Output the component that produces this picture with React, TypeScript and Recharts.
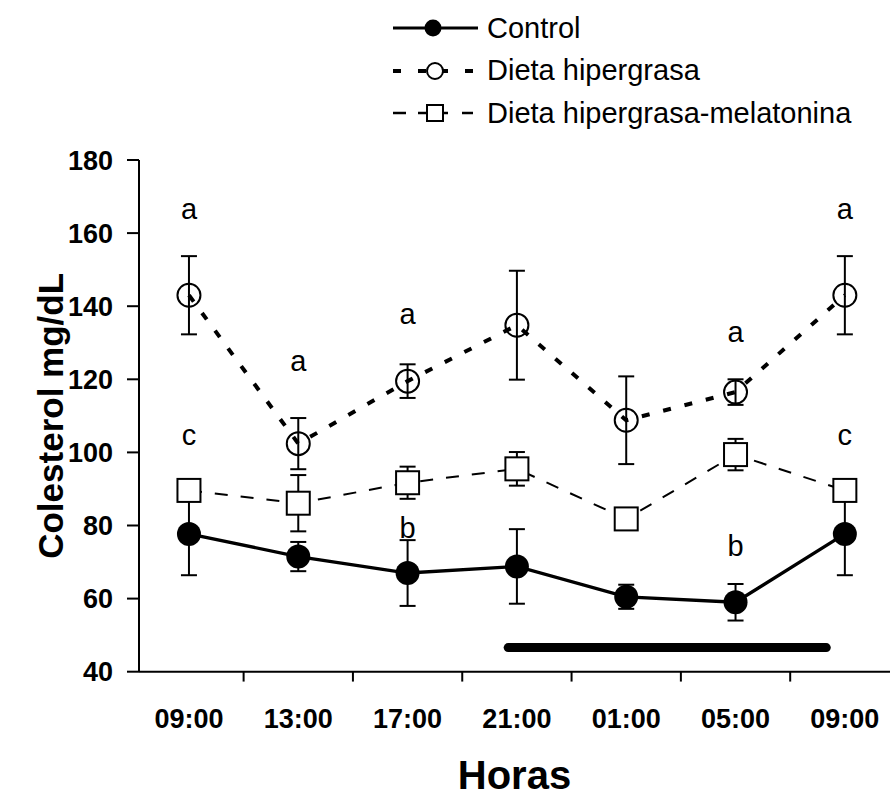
import { LineChart, Line, XAxis, YAxis, ErrorBar, ReferenceLine, Label } from 'recharts'

const FONT = 'Arial, "Liberation Sans", Helvetica, sans-serif'

// sampling times (4 h apart, starting and ending at 09:00)
const hours = ['09:00', '13:00', '17:00', '21:00', '01:00', '05:00', '09:00']

// mean cholesterol (mg/dL) and error per group
const control = [77.7, 71.5, 67.0, 68.8, 60.5, 59.0, 77.7]
const controlErr = [11.3, 4.0, 9.0, 10.2, 3.3, 5.0, 11.3]
const hiper = [143.0, 102.4, 119.5, 134.8, 108.8, 116.5, 143.0]
const hiperErr = [10.7, 7.0, 4.6, 14.9, 12.0, 3.5, 10.7]
const melat = [89.6, 86.1, 91.7, 95.5, 81.8, 99.4, 89.6]
const melatErr = [1.5, 7.7, 4.4, 4.6, 1.5, 4.3, 1.5]

// significance letters and the level they sit at
const hiperMarks = ['a', 'a', 'a', '', '', 'a', 'a']
const hiperMarkAt = [165.8, 124.3, 137.1, null, null, 132.3, 165.8]
const melatMarks = ['c', '', '', '', '', '', 'c']
const melatMarkAt = [104, null, null, null, null, null, 104]
const controlMarks = ['', '', 'b', '', '', 'b', '']
const controlMarkAt = [null, null, 79.4, null, null, 74.5, null]

// dark phase bar (in x-index units) and its level
const darkPhase = [2.92, 5.83]
const darkLevel = 46.6

const yTicks = [40, 60, 80, 100, 120, 140, 160, 180]
const xTicks = hours.map((_, i) => i)
const boundaries = hours.slice(1).map((_, i) => i + 0.5)

const rows = hours.map((h, i) => ({
  idx: i,
  hour: h,
  control: control[i],
  controlErr: controlErr[i],
  hiper: hiper[i],
  hiperErr: hiperErr[i],
  melat: melat[i],
  melatErr: melatErr[i],
  hiperMark: hiperMarkAt[i],
  melatMark: melatMarkAt[i],
  controlMark: controlMarkAt[i],
}))

const FilledDot = (p: any) => {
  if (p.cx == null || p.cy == null) return <g key={`f-${p.index}`} />
  return <circle key={`f-${p.index}`} cx={p.cx} cy={p.cy} r={12} fill="#000" stroke="none" />
}

const OpenDot = (p: any) => {
  if (p.cx == null || p.cy == null) return <g key={`o-${p.index}`} />
  return <circle key={`o-${p.index}`} cx={p.cx} cy={p.cy} r={11.5} fill="none" stroke="#000" strokeWidth={2} />
}

const SquareDot = (p: any) => {
  if (p.cx == null || p.cy == null) return <g key={`s-${p.index}`} />
  return (
    <rect
      key={`s-${p.index}`}
      x={p.cx - 11.5}
      y={p.cy - 11.5}
      width={23}
      height={23}
      fill="#fff"
      stroke="#000"
      strokeWidth={2}
    />
  )
}

const markDot = (marks: string[]) => (p: any) => {
  const t = marks[p.index]
  if (!t || p.cx == null || p.cy == null) return <g key={`m-${p.index}`} />
  return (
    <text
      key={`m-${p.index}`}
      x={p.cx}
      y={p.cy}
      dy={t === 'b' ? '0.36em' : '0.26em'}
      textAnchor="middle"
      fontSize={29}
      fontFamily={FONT}
      fill="#000"
    >
      {t}
    </text>
  )
}

const YTitle = ({ viewBox }: any) => {
  const x = viewBox.x + 51
  const y = viewBox.y + viewBox.height / 2
  return (
    <text
      x={x}
      y={y}
      dy="0.355em"
      transform={`rotate(-90 ${x} ${y})`}
      textAnchor="middle"
      fontSize={35}
      fontWeight="bold"
      fontFamily={FONT}
      fill="#000"
    >
      Colesterol mg/dL
    </text>
  )
}

const XTitle = ({ viewBox }: any) => {
  const x = viewBox.x + viewBox.width / 2
  const y = viewBox.y + viewBox.height - 7
  return (
    <text x={x} y={y} textAnchor="middle" fontSize={40} fontWeight="bold" fontFamily={FONT} fill="#000">
      Horas
    </text>
  )
}

function LegendRow({ icon, text }: { icon: React.ReactNode; text: string }) {
  return (
    <div style={{ display: 'flex', alignItems: 'center', height: 42.5 }}>
      <svg width={85} height={30} style={{ display: 'block' }}>
        {icon}
      </svg>
      <span style={{ marginLeft: 9, fontSize: 29, fontFamily: FONT, color: '#000', lineHeight: 1 }}>{text}</span>
    </div>
  )
}

function ChartLegend() {
  return (
    <div style={{ position: 'absolute', left: 393, top: 7 }}>
      <LegendRow
        text="Control"
        icon={
          <g>
            <line x1={0} y1={15} x2={85} y2={15} stroke="#000" strokeWidth={3} />
            <circle cx={40} cy={15} r={8.5} fill="#000" />
          </g>
        }
      />
      <LegendRow
        text="Dieta hipergrasa"
        icon={
          <g stroke="#000" strokeWidth={4}>
            <line x1={0} y1={15} x2={8} y2={15} />
            <line x1={25} y1={15} x2={33} y2={15} />
            <line x1={50} y1={15} x2={55} y2={15} />
            <line x1={72} y1={15} x2={80} y2={15} />
            <circle cx={42} cy={15} r={8} fill="#fff" strokeWidth={2} />
          </g>
        }
      />
      <LegendRow
        text="Dieta hipergrasa-melatonina"
        icon={
          <g stroke="#000" strokeWidth={2.5}>
            <line x1={0} y1={15} x2={13} y2={15} />
            <line x1={25} y1={15} x2={34} y2={15} />
            <line x1={50} y1={15} x2={55} y2={15} />
            <line x1={69} y1={15} x2={80} y2={15} />
            <rect x={34} y={7} width={16} height={16} fill="#fff" strokeWidth={2} />
          </g>
        }
      />
    </div>
  )
}

export default function App() {
  return (
    <div style={{ position: 'absolute', left: 0, top: 0, width: 890, height: 796, background: '#fff' }}>
      <LineChart width={890} height={796} data={rows} margin={{ top: 160, right: 0, bottom: 0, left: 0 }}>
        <XAxis
          dataKey="idx"
          type="number"
          domain={[-0.457, 6.413]}
          allowDataOverflow
          ticks={xTicks}
          interval={0}
          tickFormatter={(i: number) => hours[i]}
          height={124.3}
          tickLine={false}
          tickSize={0}
          tickMargin={37}
          axisLine={{ stroke: '#000', strokeWidth: 2 }}
          tick={{ fill: '#000', fontSize: 27, fontWeight: 700, fontFamily: FONT }}
        >
          <Label content={<XTitle />} />
        </XAxis>
        <YAxis
          type="number"
          domain={[40, 180]}
          allowDataOverflow
          ticks={yTicks}
          interval={0}
          width={139}
          tickSize={12}
          tickMargin={14}
          axisLine={{ stroke: '#000', strokeWidth: 2 }}
          tickLine={{ stroke: '#000', strokeWidth: 2 }}
          tick={{ fill: '#000', fontSize: 27, fontWeight: 700, fontFamily: FONT }}
        >
          <Label content={<YTitle />} />
        </YAxis>

        {boundaries.map((b) => (
          <ReferenceLine
            key={b}
            segment={[{ x: b, y: 40 }, { x: b, y: 37.3 }]}
            stroke="#000"
            strokeWidth={2}
            ifOverflow="visible"
          />
        ))}

        <ReferenceLine
          segment={[{ x: darkPhase[0], y: darkLevel }, { x: darkPhase[1], y: darkLevel }]}
          stroke="#000"
          strokeWidth={9}
          strokeLinecap="round"
          ifOverflow="visible"
        />

        <Line
          dataKey="control"
          stroke="#000"
          strokeWidth={3.3}
          dot={FilledDot}
          activeDot={false}
          isAnimationActive={false}
        >
          <ErrorBar dataKey="controlErr" direction="y" width={8} stroke="#000" strokeWidth={2} />
        </Line>
        <Line
          dataKey="hiper"
          stroke="#000"
          strokeWidth={4}
          strokeDasharray="8 14"
          dot={OpenDot}
          activeDot={false}
          isAnimationActive={false}
        >
          <ErrorBar dataKey="hiperErr" direction="y" width={8} stroke="#000" strokeWidth={2} />
        </Line>
        <Line
          dataKey="melat"
          stroke="#000"
          strokeWidth={2}
          strokeDasharray="13 13"
          dot={SquareDot}
          activeDot={false}
          isAnimationActive={false}
        >
          <ErrorBar dataKey="melatErr" direction="y" width={8} stroke="#000" strokeWidth={2} />
        </Line>

        <Line dataKey="hiperMark" stroke="none" dot={markDot(hiperMarks)} activeDot={false} isAnimationActive={false} />
        <Line dataKey="melatMark" stroke="none" dot={markDot(melatMarks)} activeDot={false} isAnimationActive={false} />
        <Line dataKey="controlMark" stroke="none" dot={markDot(controlMarks)} activeDot={false} isAnimationActive={false} />
      </LineChart>
      <ChartLegend />
    </div>
  )
}
